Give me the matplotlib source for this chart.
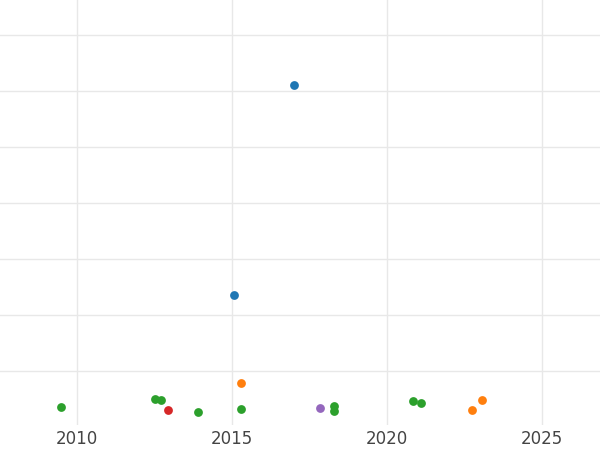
import matplotlib
matplotlib.use('Agg')
import matplotlib.pyplot as plt

# year, value, colour group
blue_x = [2017.0, 2015.06]
blue_y = [6.11, 2.36]
orange_x = [2015.29, 2022.74, 2023.06]
orange_y = [0.79, 0.30, 0.48]
green_x = [2009.48, 2012.52, 2012.71, 2013.90, 2015.29, 2018.29, 2018.29, 2020.84, 2021.10]
green_y = [0.36, 0.50, 0.48, 0.27, 0.32, 0.38, 0.29, 0.46, 0.43]
red_x = [2012.94]
red_y = [0.30]
purple_x = [2017.84]
purple_y = [0.34]

fig = plt.figure(figsize=(6, 4.5), dpi=100)
ax = fig.add_axes([0, 0.055, 1, 0.945])

for xs, ys, c in [(blue_x, blue_y, '#1f77b4'), (orange_x, orange_y, '#ff7f0e'),
                  (green_x, green_y, '#2ca02c'), (red_x, red_y, '#d62728'),
                  (purple_x, purple_y, '#9467bd')]:
    ax.scatter(xs, ys, s=40, color=c, zorder=3, linewidths=0)

ax.set_xlim(2007.52, 2026.87)
ax.set_ylim(0.036, 7.625)
ax.set_xticks([2010, 2015, 2020, 2025])
ax.set_yticks(range(1, 8))
ax.set_yticklabels([])
ax.grid(True, color='#e8e8e8', linewidth=1)
ax.tick_params(length=0, labelsize=12, labelcolor='#444444')
for s in ax.spines.values():
    s.set_visible(False)

fig.savefig('out.png')
